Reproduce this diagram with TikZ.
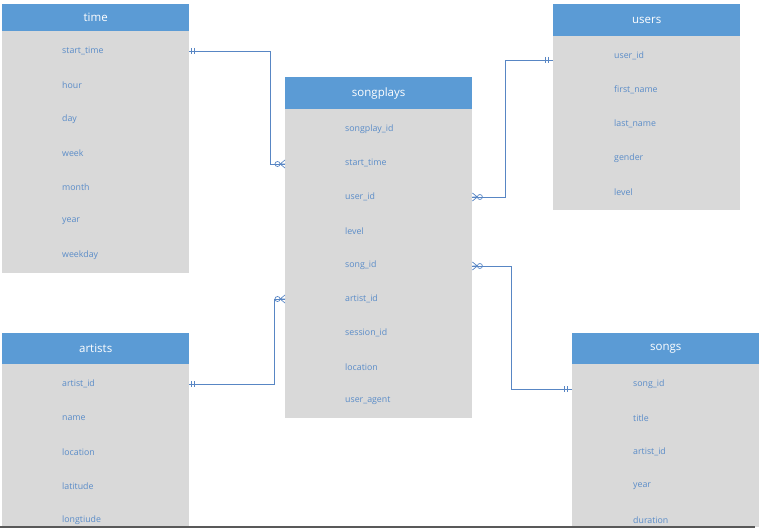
\documentclass[tikz,border=0pt]{standalone}
\usepackage{fontspec}
\setmainfont{Open Sans}
\usetikzlibrary{positioning}

\definecolor{hdblue}{RGB}{91,155,213}
\definecolor{bodygray}{RGB}{217,217,217}
\definecolor{rowblue}{RGB}{90,140,200}
\definecolor{linkblue}{RGB}{88,134,196}

\tikzset{
  tablehead/.style={fill=hdblue, text=white, font=\fontsize{11.5}{13}\selectfont,
    minimum width=187pt, inner sep=0pt, anchor=north west},
  tablebody/.style={fill=bodygray, minimum width=187pt, inner sep=0pt, anchor=north west},
  field/.style={text=rowblue, font=\fontsize{8.8}{10}\selectfont, anchor=west, inner sep=0pt},
  link/.style={draw=linkblue, line width=0.7pt},
  onemark/.pic={\draw[link] (0,-3) -- (0,3) (3,-3) -- (3,3);},
  manymark/.pic={\draw[link] (-5,0) -- (0,-4) (-5,0) -- (0,4) (-5,0) -- (0,0);
    \draw[link] (-7.5,0) circle (2.5pt);}
}

\begin{document}
\begin{tikzpicture}[x=1pt,y=-1pt]
  \useasboundingbox (0,0) rectangle (762,529);

  % time
  \node[tablehead, minimum height=27pt] (time-head) at (2,4) {time};
  \node[tablebody, minimum height=242pt] (time-body) at (2,31) {};
  \foreach \f [count=\i] in {start\_time, hour, day, week, month, year, weekday}
    \node[field] (time-\i) at (62,{51+34*(\i-1)}) {\f};

  % songplays
  \node[tablehead, minimum height=32pt] (songplays-head) at (285,77) {songplays};
  \node[tablebody, minimum height=309pt] (songplays-body) at (285,109) {};
  \foreach \f [count=\i] in {songplay\_id, start\_time, user\_id, level, song\_id,
      artist\_id, session\_id, location, user\_agent}
    \node[field] (songplays-\i) at (345,{129+34*(\i-1)}) {\f};

  % users
  \node[tablehead, minimum height=32pt] (users-head) at (553,4) {users};
  \node[tablebody, minimum height=174pt] (users-body) at (553,36) {};
  \foreach \f [count=\i] in {user\_id, first\_name, last\_name, gender, level}
    \node[field] (users-\i) at (614,{56+34*(\i-1)}) {\f};

  % artists
  \node[tablehead, minimum height=31pt] (artists-head) at (2,333) {artists};
  \node[tablebody, minimum height=163pt] (artists-body) at (2,364) {};
  \foreach \f [count=\i] in {artist\_id, name, location, latitude, longtiude}
    \node[field] (artists-\i) at (62,{384+34*(\i-1)}) {\f};

  % songs
  \node[tablehead, minimum height=31pt] (songs-head) at (572,333) {songs};
  \node[tablebody, minimum height=163pt] (songs-body) at (572,364) {};
  \foreach \f [count=\i] in {song\_id, title, artist\_id, year, duration}
    \node[field] (songs-\i) at (633,{384+34*(\i-1)}) {\f};

  % links
  \draw[link] (time-body.east |- time-1) -- ++(81,0)
    |- ([yshift=-1pt]songplays-body.west |- songplays-2);
  \draw[link] ([yshift=-4pt]users-body.west |- users-1) -- ++(-48,0)
    |- (songplays-body.east |- songplays-3);
  \draw[link] (artists-body.east |- artists-1) -- ++(85,0)
    |- (songplays-body.west |- songplays-6);
  \draw[link] ([yshift=-1pt]songplays-body.east |- songplays-5) -- ++(39,0)
    |- ([yshift=-5pt]songs-body.west |- songs-1);

  % ends
  \pic at ([xshift=2pt]time-body.east |- time-1) {onemark};
  \pic at ([xshift=2pt]artists-body.east |- artists-1) {onemark};
  \pic[xscale=-1] at ([xshift=-5pt,yshift=-4pt]users-body.west |- users-1) {onemark};
  \pic[xscale=-1] at ([xshift=-5pt,yshift=-5pt]songs-body.west |- songs-1) {onemark};
  \pic at ([yshift=-1pt]songplays-body.west |- songplays-2) {manymark};
  \pic at (songplays-body.west |- songplays-6) {manymark};
  \pic[xscale=-1] at (songplays-body.east |- songplays-3) {manymark};
  \pic[xscale=-1] at ([yshift=-1pt]songplays-body.east |- songplays-5) {manymark};

  % bottom edge
  \draw[gray!70!black, line width=1.5pt] (0,527) -- (755,527);
\end{tikzpicture}
\end{document}
